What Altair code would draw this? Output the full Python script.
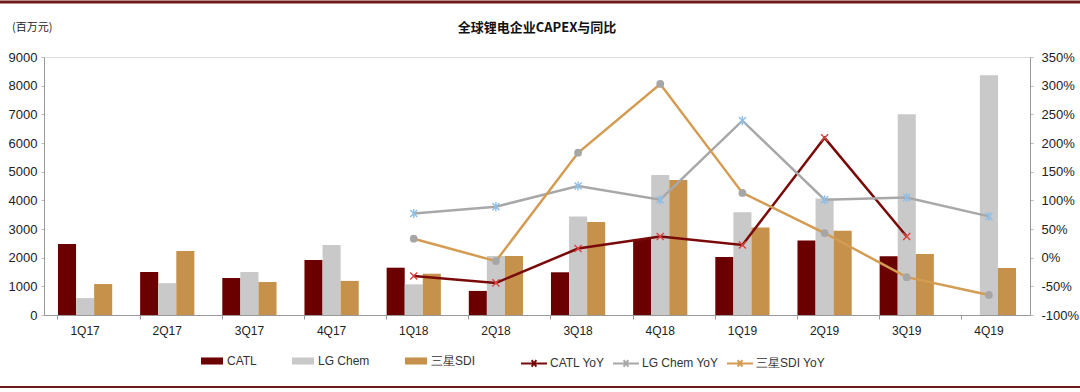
import altair as alt
import pandas as pd

quarters = ["1Q17", "2Q17", "3Q17", "4Q17", "1Q18", "2Q18", "3Q18", "4Q18", "1Q19", "2Q19", "3Q19", "4Q19"]
catl = [2480, 1500, 1290, 1920, 1650, 840, 1490, 2650, 2020, 2600, 2050, None]
lg_chem = [590, 1110, 1500, 2440, 1070, 2060, 3440, 4880, 3580, 4060, 7000, 8360]
sdi = [1080, 2230, 1150, 1190, 1440, 2060, 3240, 4710, 3050, 2940, 2130, 1640]
catl_yoy = [None, None, None, None, -32, -44, 16, 37, 22, 209, 37, None]
lg_yoy = [None, None, None, None, 77, 89, 125, 101, 239, 101, 105, 72]
sdi_yoy = [None, None, None, None, 33, -6, 183, 303, 113, 43, -34, -65]
yoy_ticks = [-100, -50, 0, 50, 100, 150, 200, 250, 300, 350]

bar_series = ["CATL", "LG Chem", "三星SDI"]
bar_colors = ["#6B0000", "#C9C9C9", "#C6914B"]
line_series = ["CATL YoY", "LG Chem YoY", "三星SDI YoY"]
line_colors = ["#7A0A0A", "#A8A8A8", "#D39C52"]
title_text = "全球锂电企业CAPEX与同比"
unit_text = "(百万元)"

FONT = "Liberation Sans"
LEGEND_FONT = "Liberation Sans Narrow, Liberation Sans"

rows = []
for name, vals in zip(bar_series, [catl, lg_chem, sdi]):
    for q, v in zip(quarters, vals):
        if v is not None:
            rows.append({"quarter": q, "series": name, "value": v})
bars_df = pd.DataFrame(rows)

marker_shape = {
    "CATL YoY": "M-1,-1L1,1M-1,1L1,-1",
    "LG Chem YoY": "M-1,-1L1,1M-1,1L1,-1M0,-1.3L0,1.3",
    "三星SDI YoY": "circle",
}
marker_color = {"CATL YoY": "#D9433F", "LG Chem YoY": "#8DBFE8", "三星SDI YoY": "#A6A6A6"}
rows = []
for name, vals in zip(line_series, [catl_yoy, lg_yoy, sdi_yoy]):
    for q, v in zip(quarters, vals):
        if v is not None:
            rows.append({"quarter": q, "series": name, "yoy": v,
                         "mshape": marker_shape[name], "mcolor": marker_color[name]})
yoy_df = pd.DataFrame(rows)

x_enc = alt.X(
    "quarter:N", sort=quarters, title=None,
    scale=alt.Scale(paddingInner=0.34, paddingOuter=0.17),
    axis=alt.Axis(labelAngle=0, labelFont=FONT, labelFontSize=12, labelColor="#222",
                  domainColor="#999", tickColor="#999", tickSize=4, bandPosition=0,
                  labelPadding=6, ticks=True),
)

bars = alt.Chart(bars_df).mark_bar().encode(
    x=x_enc,
    xOffset=alt.XOffset("series:N", sort=bar_series, scale=alt.Scale(domain=bar_series)),
    y=alt.Y("value:Q", scale=alt.Scale(domain=[0, 9000], nice=False),
            axis=alt.Axis(values=list(range(0, 9001, 1000)), format="d", grid=False,
                          labelFont=FONT, labelFontSize=13, labelColor="#222",
                          domainColor="#999", tickColor="#bbb", tickSize=3,
                          labelPadding=4, title=None)),
    color=alt.Color("series:N", sort=bar_series,
                    scale=alt.Scale(domain=bar_series, range=bar_colors),
                    legend=alt.Legend(title=None, orient="none", legendX=156, legendY=292,
                                      direction="horizontal", symbolType="M-1,-0.32H1V0.32H-1Z",
                                      symbolSize=484, symbolOpacity=1, labelFont=LEGEND_FONT,
                                      labelFontSize=12, labelColor="#333", columnPadding=34,
                                      labelOffset=3)),
)

y_scale = alt.Scale(domain=[-100, 350], nice=False, zero=False)
right_axis = alt.Axis(orient="right", values=yoy_ticks,
                      labelExpr="datum.value + '%'", grid=False, labelFont=FONT,
                      labelFontSize=13, labelColor="#222", domainColor="#999",
                      tickColor="#bbb", tickSize=3, labelPadding=8, title=None,
                      labelOverlap=False)

lines = alt.Chart(yoy_df).mark_line(strokeWidth=2.5).encode(
    x=alt.X("quarter:N", sort=quarters),
    y=alt.Y("yoy:Q", scale=y_scale, axis=right_axis),
    color=alt.Color("series:N", sort=line_series,
                    scale=alt.Scale(domain=line_series, range=line_colors),
                    legend=alt.Legend(title=None, orient="none", legendX=476, legendY=292,
                                      direction="horizontal",
                                      symbolType="M-1,0H1M-0.18,-0.25L0.18,0.25M-0.18,0.25L0.18,-0.25",
                                      symbolSize=676, symbolStrokeWidth=2, labelFont=LEGEND_FONT,
                                      labelFontSize=12, labelColor="#333", columnPadding=4,
                                      labelOffset=2)),
)

open_pts = alt.Chart(yoy_df).transform_filter(
    alt.datum.series != "三星SDI YoY"
).mark_point(filled=False, size=50, strokeWidth=1.4, opacity=1).encode(
    x=alt.X("quarter:N", sort=quarters),
    y=alt.Y("yoy:Q", scale=y_scale, axis=right_axis),
    shape=alt.Shape("mshape:N", scale=None),
    stroke=alt.Stroke("mcolor:N", scale=None),
)

circle_pts = alt.Chart(yoy_df).transform_filter(
    alt.datum.series == "三星SDI YoY"
).mark_point(filled=True, shape="circle", size=60, opacity=1).encode(
    x=alt.X("quarter:N", sort=quarters),
    y=alt.Y("yoy:Q", scale=y_scale, axis=right_axis),
    fill=alt.Fill("mcolor:N", scale=None),
)

line_layer = alt.layer(lines, open_pts, circle_pts)

one = pd.DataFrame({"k": [0]})
frame_top = alt.Chart(one).mark_rule(color="#6E1A1A", strokeWidth=3).encode(
    x=alt.value(-44), x2=alt.value(1036), y=alt.value(-55))
frame_bottom = alt.Chart(one).mark_rule(color="#6E1A1A", strokeWidth=2).encode(
    x=alt.value(-44), x2=alt.value(1036), y=alt.value(330))
title_mark = alt.Chart(one).mark_text(
    text=title_text, font="Noto Sans CJK SC", fontSize=13, fontWeight="bold",
    color="#111", align="center", baseline="middle").encode(
    x=alt.value(493), y=alt.value(-29))
unit_mark = alt.Chart(one).mark_text(
    text=unit_text, font="Noto Sans CJK SC", fontSize=11, color="#222",
    align="left", baseline="middle").encode(
    x=alt.value(-32), y=alt.value(-29))

chart = alt.layer(bars, line_layer, frame_top, frame_bottom, title_mark, unit_mark).resolve_scale(
    y="independent", color="independent"
).properties(
    width=986, height=258,
    autosize=alt.AutoSizeParams(type="none"),
    padding={"left": 44, "top": 57, "right": 50, "bottom": 77},
).configure_view(stroke=None).configure(background="white")

chart.save("out.html", embed_options={"renderer": "svg", "actions": False})
